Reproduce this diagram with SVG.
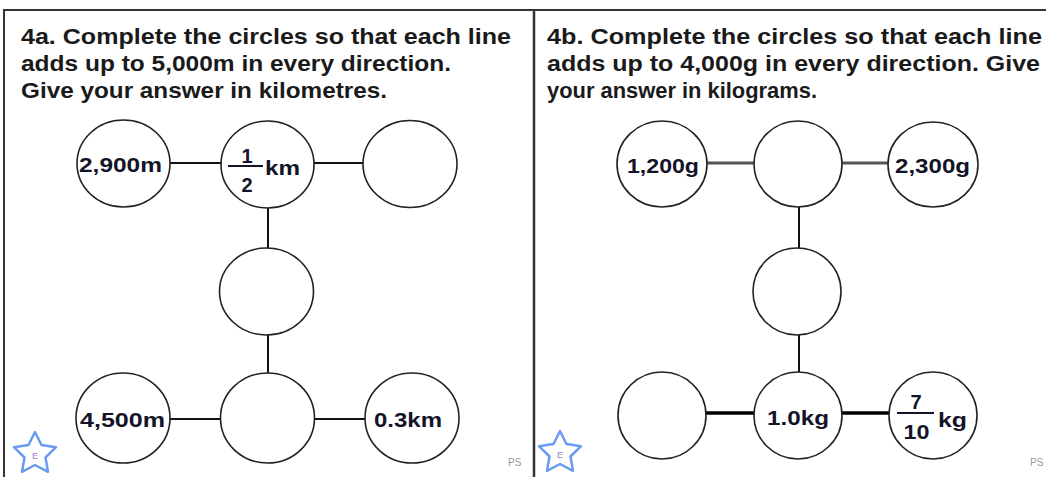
<svg xmlns="http://www.w3.org/2000/svg" width="1046" height="477" viewBox="0 0 1046 477">
<style>
.frame{stroke:#333;stroke-width:2;fill:none}
.title{font-family:"Liberation Sans",Arial,sans-serif;font-weight:bold;font-size:22px;fill:#1a1a1a}
.node{fill:#fff;stroke:#222;stroke-width:1.6}
.lbl{font-family:"Liberation Sans",Arial,sans-serif;font-weight:bold;font-size:20px;fill:#141428}
.frac{font-family:"Liberation Sans",Arial,sans-serif;font-weight:bold;font-size:20px;fill:#141428;text-anchor:middle}
.conn{stroke:#111;stroke-width:2;fill:none}
.conn-grey{stroke:#555;stroke-width:3;fill:none}
.conn-thick{stroke:#000;stroke-width:3.5;fill:none}
.bar{stroke:#141428;stroke-width:2}
.star{fill:#fff;stroke:#6b9bf0;stroke-width:2.5;stroke-linejoin:round}
.e{font-family:"Liberation Sans",Arial,sans-serif;font-size:9px;fill:#9b7fd0;text-anchor:middle}
.ps{font-family:"Liberation Sans",Arial,sans-serif;font-size:10px;fill:#999}
</style>
<defs>
<polygon id="star" points="0,-22 6.5,-9 21,-6.8 10.5,3.5 13,17.8 0,11 -13,17.8 -10.5,3.5 -21,-6.8 -6.5,-9"/>
</defs>
<rect width="1046" height="477" fill="#fff"/>
<g id="frame">
<line class="frame" x1="3" y1="10" x2="1046" y2="10"/>
<line class="frame" x1="4" y1="10" x2="4" y2="477"/>
<line class="frame" x1="534" y1="10" x2="534" y2="477" style="stroke-width:2.5"/>
</g>
<g id="title-a">
<text class="title" x="21" y="44" textLength="490" lengthAdjust="spacingAndGlyphs">4a. Complete the circles so that each line</text>
<text class="title" x="21" y="71" textLength="430" lengthAdjust="spacingAndGlyphs">adds up to 5,000m in every direction.</text>
<text class="title" x="21" y="98" textLength="366" lengthAdjust="spacingAndGlyphs">Give your answer in kilometres.</text>
</g>
<g id="title-b">
<text class="title" x="547" y="44" textLength="495" lengthAdjust="spacingAndGlyphs">4b. Complete the circles so that each line</text>
<text class="title" x="547" y="71" textLength="493" lengthAdjust="spacingAndGlyphs">adds up to 4,000g in every direction. Give</text>
<text class="title" x="547" y="98" textLength="270" lengthAdjust="spacingAndGlyphs">your answer in kilograms.</text>
</g>
<g id="connectors">
<line class="conn" x1="170" y1="163" x2="221" y2="163"/>
<line class="conn" x1="314" y1="163" x2="363" y2="163"/>
<line class="conn" x1="268" y1="207" x2="268" y2="249"/>
<line class="conn" x1="268" y1="334" x2="268" y2="374"/>
<line class="conn" x1="170" y1="419" x2="221" y2="419"/>
<line class="conn" x1="314" y1="419" x2="365" y2="419"/>
<line class="conn-grey" x1="707" y1="163" x2="754" y2="163"/>
<line class="conn-grey" x1="842" y1="163" x2="888" y2="163"/>
<line class="conn" x1="799" y1="207" x2="799" y2="249"/>
<line class="conn" x1="799" y1="334" x2="799" y2="373"/>
<line class="conn-thick" x1="706" y1="413" x2="754" y2="413"/>
<line class="conn-thick" x1="842" y1="413" x2="889" y2="413"/>
</g>
<g id="a1"><ellipse class="node" cx="123.5" cy="163.5" rx="46.5" ry="43.5"/><text class="lbl" x="79" y="172" textLength="83" lengthAdjust="spacingAndGlyphs">2,900m</text></g>
<g id="a2"><ellipse class="node" cx="267.5" cy="164.5" rx="46.5" ry="43.5"/>
<text class="frac" x="247" y="163">1</text><line class="bar" x1="228" y1="166" x2="263" y2="166"/><text class="frac" x="247" y="192">2</text>
<text class="lbl" x="265" y="175" textLength="35" lengthAdjust="spacingAndGlyphs">km</text></g>
<g id="a3"><ellipse class="node" cx="410" cy="164" rx="47" ry="43.5"/></g>
<g id="a4"><ellipse class="node" cx="266.5" cy="291.5" rx="47" ry="43.5"/></g>
<g id="a5"><ellipse class="node" cx="123" cy="418" rx="47" ry="45"/><text class="lbl" x="80" y="427" textLength="85" lengthAdjust="spacingAndGlyphs">4,500m</text></g>
<g id="a6"><ellipse class="node" cx="267.5" cy="418" rx="47" ry="45"/></g>
<g id="a7"><ellipse class="node" cx="412" cy="418" rx="47" ry="45"/><text class="lbl" x="374" y="427" textLength="68" lengthAdjust="spacingAndGlyphs">0.3km</text></g>
<g id="b1"><ellipse class="node" cx="662" cy="164" rx="45" ry="43"/><text class="lbl" x="627" y="173" textLength="72" lengthAdjust="spacingAndGlyphs">1,200g</text></g>
<g id="b2"><ellipse class="node" cx="798" cy="164" rx="44" ry="43"/></g>
<g id="b3"><ellipse class="node" cx="933" cy="164.5" rx="45" ry="42.5"/><text class="lbl" x="895" y="173" textLength="75" lengthAdjust="spacingAndGlyphs">2,300g</text></g>
<g id="b4"><ellipse class="node" cx="797" cy="291.5" rx="44" ry="43.5"/></g>
<g id="b5"><ellipse class="node" cx="662" cy="415.5" rx="44" ry="43.5"/></g>
<g id="b6"><ellipse class="node" cx="798" cy="415.5" rx="44" ry="43.5"/><text class="lbl" x="767" y="425" textLength="62" lengthAdjust="spacingAndGlyphs">1.0kg</text></g>
<g id="b7"><ellipse class="node" cx="933" cy="415.5" rx="44" ry="43.5"/>
<text class="frac" x="916" y="409">7</text><line class="bar" x1="897" y1="413" x2="934" y2="413"/><text class="frac" x="916.5" y="439" textLength="26" lengthAdjust="spacingAndGlyphs">10</text>
<text class="lbl" x="938" y="427" textLength="29" lengthAdjust="spacingAndGlyphs">kg</text></g>
<g id="star-a"><use href="#star" class="star" x="35" y="454"/><text class="e" x="35" y="459">E</text></g>
<g id="star-b"><use href="#star" class="star" x="560" y="453"/><text class="e" x="560" y="458">E</text></g>
<text class="ps" x="508" y="466">PS</text>
<text class="ps" x="1030" y="466">PS</text>
</svg>
